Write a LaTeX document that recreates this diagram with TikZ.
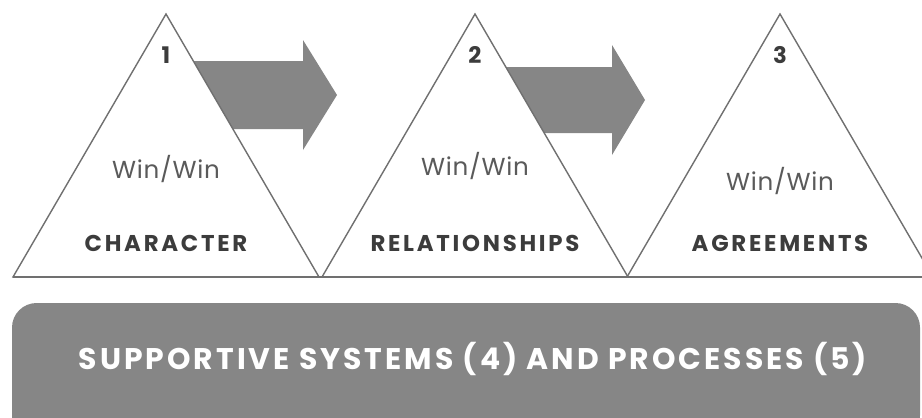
\documentclass[tikz,border=0pt]{standalone}
\usepackage{fontspec}
\setmainfont{Poppins}
\newfontfamily\labfont[LetterSpace=12]{Poppins}
\newfontfamily\winfont[LetterSpace=3]{Poppins}
\newfontfamily\basefont[LetterSpace=10]{Poppins}
\definecolor{linegray}{HTML}{707070}
\definecolor{arrowgray}{HTML}{868686}
\definecolor{textgray}{HTML}{3C3C3C}
\definecolor{wingray}{HTML}{5A5A5A}
\begin{document}
\begin{tikzpicture}[x=0.02cm,y=-0.02cm,
    tri/.style={draw=linegray,fill=white,line width=0.8pt},
    blockarrow/.style={fill=arrowgray},
    numlab/.style={font=\bfseries\fontsize{13}{15}\selectfont,text=textgray},
    winlab/.style={font=\winfont\fontsize{14}{16}\selectfont,text=wingray},
    steplab/.style={font=\labfont\bfseries\fontsize{13}{15}\selectfont,text=textgray},
    base/.style={fill=arrowgray,rounded corners=14pt},
    baselab/.style={font=\basefont\bfseries\fontsize{17}{20}\selectfont,text=white},
  ]
  \useasboundingbox (0,0) rectangle (922,417);
  % block arrows behind the triangles
  \foreach \cy/\hb/\tip/\bh in {95/303/337/34,100/612/645/33}{
      \fill[blockarrow] (\hb-150,\cy-\bh) -- (\hb,\cy-\bh) -- (\hb,\cy-55)
        -- (\tip,\cy) -- (\hb,\cy+55) -- (\hb,\cy+\bh) -- (\hb-150,\cy+\bh) -- cycle;
    }
  \foreach \i/\x/\lab/\wy in {1/166/CHARACTER/169,2/475/RELATIONSHIPS/166,3/780/AGREEMENTS/181}{
      \coordinate (apex\i) at (\x,14);
      \draw[tri] (apex\i) -- (\x+153,277) -- (\x-153,277) -- cycle;
      \node[numlab] (num\i) at (\x,55) {\i};
      \node[winlab] (win\i) at (\x,\wy) {Win/Win};
      \node[steplab] (lab\i) at (\x,243) {\lab};
    }
  \coordinate (baseL) at (13,277);
  \coordinate (baseR) at (922,277);
  \draw[tri] (baseL) -- (baseR);
  \fill[base] (12,303) rectangle (920,440);
  \node[baselab] (support) at (473,359) {SUPPORTIVE SYSTEMS (4) AND PROCESSES (5)};
\end{tikzpicture}
\end{document}
